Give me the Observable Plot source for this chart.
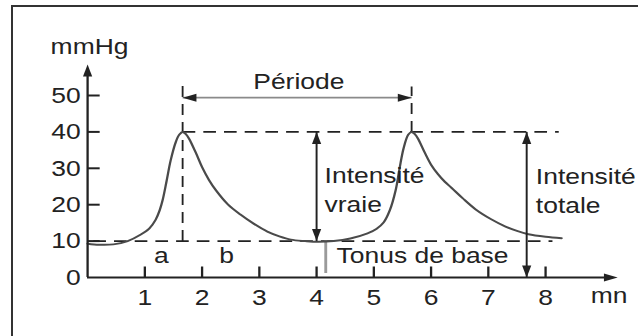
<!DOCTYPE html>
<html><head><meta charset="utf-8">
<script src="https://cdn.jsdelivr.net/npm/d3@7"></script>
<script src="https://cdn.jsdelivr.net/npm/@observablehq/plot@0.6"></script>
<style>
html,body{margin:0;padding:0;background:#fff;overflow:hidden;}
#wrap{position:relative;width:638px;height:336px;overflow:hidden;}
#frame{position:absolute;left:11px;top:5px;width:800px;height:600px;border:2px solid #333;box-sizing:border-box;}
#chart{position:absolute;left:0;top:0;}
</style></head><body>
<div id="wrap"><div id="frame"></div><div id="chart"></div></div>
<script>
// ---- data ----
const timeMn = [0.0, 0.2, 0.45, 0.7, 0.93, 1.08, 1.19, 1.26, 1.31, 1.38, 1.45, 1.54, 1.60, 1.66, 1.72, 1.77, 1.89, 2.00, 2.12, 2.24, 2.45, 2.67, 2.90, 3.14, 3.35, 3.55, 3.80, 4.02, 4.30, 4.59, 4.89, 5.05, 5.17, 5.28, 5.38, 5.45, 5.52, 5.60, 5.66, 5.72, 5.77, 5.89, 6.00, 6.12, 6.24, 6.36, 6.55, 6.78, 7.05, 7.30, 7.50, 7.70, 8.00, 8.28];
const pressure = [9.3, 9.0, 9.1, 10.0, 11.8, 13.5, 15.9, 18.5, 21.2, 26.5, 32.1, 37.2, 39.2, 40, 39.3, 38.2, 34.3, 30.3, 26.8, 24.0, 20.1, 17.3, 14.8, 12.6, 11.3, 10.4, 10.0, 9.8, 10.0, 10.7, 12.1, 13.4, 15.1, 18.5, 23.9, 30.0, 35.5, 39.2, 40, 39.3, 38.2, 34.3, 31.0, 28.4, 26.3, 24.6, 21.8, 18.7, 16.0, 14.0, 12.8, 11.9, 11.2, 10.8];
const xTicks = [1, 2, 3, 4, 5, 6, 7, 8];
const yTicks = [0, 10, 20, 30, 40, 50];
const yTickMarks = [10, 20, 30, 40, 50];

// axes extents
const yAxisTop = 58.5;
const xAxisEnd = 9.26;

// dashed guides
const guideX1 = [0.1, 1.66, 1.66, 5.66];
const guideY1 = [10, 40, 10, 40];
const guideX2 = [8.12, 8.23, 1.66, 5.66];
const guideY2 = [10, 40, 53, 52.5];

// arrow shafts (Période, Intensité vraie, Intensité totale)
const shaftX1 = [1.66, 4.0, 7.67];
const shaftY1 = [49.4, 10, 0];
const shaftX2 = [5.66, 4.0, 7.67];
const shaftY2 = [49.4, 40, 40];
const shaftColor = ["#8a8a8a", "#222", "#222"];

// arrow heads
const headT = [0, xAxisEnd, 1.66, 5.66, 4.0, 4.0, 7.67, 7.67];
const headV = [yAxisTop, 0, 49.4, 49.4, 40, 10, 40, 0];
const headDir = ["up", "right", "left", "right", "up", "down", "up", "down"];

// tonus de base marker
const tonusT = 4.16, tonusV1 = 1.1, tonusV2 = 10;

// labels
const labelText = ["mmHg", "Intensité\nvraie", "Intensité\ntotale", "Tonus de base", "mn", "Période", "a", "b"];
const labelT = [-0.646, 4.14, 7.83, 4.35, 8.79, 3.69, 1.29, 2.43];
const labelV = [61.3, 17.9, 17.6, 3.9, -7.1, 51.9, 3.9, 3.9];
const labelAnchor = ["start", "start", "start", "start", "start", "middle", "middle", "middle"];

// ---- build tables ----
const curve = timeMn.map((t, i) => ({t, v: pressure[i]}));
const guides = guideX1.map((x1, i) => ({x1, y1: guideY1[i], x2: guideX2[i], y2: guideY2[i]}));
const shafts = shaftX1.map((x1, i) => ({x1, y1: shaftY1[i], x2: shaftX2[i], y2: shaftY2[i], c: shaftColor[i]}));
const heads = headT.map((t, i) => ({t, v: headV[i], dir: headDir[i]}));
const labels = labelText.map((text, i) => ({text, t: labelT[i], v: labelV[i], anchor: labelAnchor[i]}));

const L = 12, W = 4;
function arrowSym(dir) {
  return {draw(ctx) {
    ctx.moveTo(0, 0);
    if (dir === "up") { ctx.lineTo(W, L); ctx.lineTo(-W, L); }
    else if (dir === "down") { ctx.lineTo(W, -L); ctx.lineTo(-W, -L); }
    else if (dir === "right") { ctx.lineTo(-L, W); ctx.lineTo(-L, -W); }
    else { ctx.lineTo(L, W); ctx.lineTo(L, -W); }
    ctx.closePath();
  }};
}
const yTickSym = {draw(ctx) { ctx.moveTo(0, 0); ctx.lineTo(10.5, 0); }};
const xTickSym = {draw(ctx) { ctx.moveTo(0, 0); ctx.lineTo(0, -11); }};

const ink = "#222";
const fs = 23;

const plot = Plot.plot({
  width: 555,
  height: 336,
  marginLeft: 75.7,
  marginRight: 80.9,
  marginTop: 95,
  marginBottom: 59,
  x: {domain: [0, 8]},
  y: {domain: [0, 50]},
  style: {fontFamily: "'Liberation Sans', Arial, sans-serif", fontSize: fs + "px", color: ink, background: "transparent", overflow: "visible"},
  marks: [
    // dashed guides
    Plot.link(guides, {x1: "x1", y1: "y1", x2: "x2", y2: "y2", stroke: ink, strokeWidth: 1.6, strokeDasharray: "11,7"}),
    // tonus gray bar
    Plot.ruleX([tonusT], {y1: tonusV1, y2: tonusV2, stroke: "#9a9a9a", strokeWidth: 2.5}),
    // curve
    Plot.line(curve, {x: "t", y: "v", curve: "catmull-rom", stroke: "#4a4a4a", strokeWidth: 2}),
    // arrow shafts
    Plot.link(shafts, {x1: "x1", y1: "y1", x2: "x2", y2: "y2", stroke: "c", strokeWidth: 1.7}),
    // axes lines
    Plot.ruleX([0], {y1: 0, y2: yAxisTop - 2, stroke: ink, strokeWidth: 2}),
    Plot.ruleY([0], {x1: 0, x2: xAxisEnd - 0.1, stroke: ink, strokeWidth: 2}),
    // tick marks
    Plot.dot(yTickMarks, {x: 0, y: d => d, symbol: yTickSym, r: 5, fill: "none", stroke: ink, strokeWidth: 2}),
    Plot.dot(xTicks, {x: d => d, y: 0, symbol: xTickSym, r: 5, fill: "none", stroke: ink, strokeWidth: 2}),
    // arrow heads
    ...["up", "down", "left", "right"].map(dir =>
      Plot.dot(heads.filter(d => d.dir === dir), {x: "t", y: "v", symbol: arrowSym(dir), r: 5, fill: ink, stroke: "none"})),
    // axis labels
    Plot.axisX(xTicks, {tickSize: 0, tickPadding: 11, fontSize: fs, label: null, fill: ink}),
    Plot.axisY(yTicks, {tickSize: 0, tickPadding: 6, fontSize: fs, label: null, fill: ink}),
    // text labels
    Plot.text(labels.filter(d => d.anchor === "start"), {x: "t", y: "v", text: "text", textAnchor: "start", lineAnchor: "bottom", lineHeight: 1.26, fontSize: fs, fill: ink}),
    Plot.text(labels.filter(d => d.anchor === "middle"), {x: "t", y: "v", text: "text", textAnchor: "middle", lineAnchor: "bottom", lineHeight: 1.26, fontSize: fs, fill: ink})
  ]
});
plot.setAttribute("width", 638);
plot.setAttribute("preserveAspectRatio", "none");
plot.style.width = "638px";
plot.style.height = "336px";
plot.style.maxWidth = "none";
document.getElementById("chart").appendChild(plot);
</script>
</body></html>
